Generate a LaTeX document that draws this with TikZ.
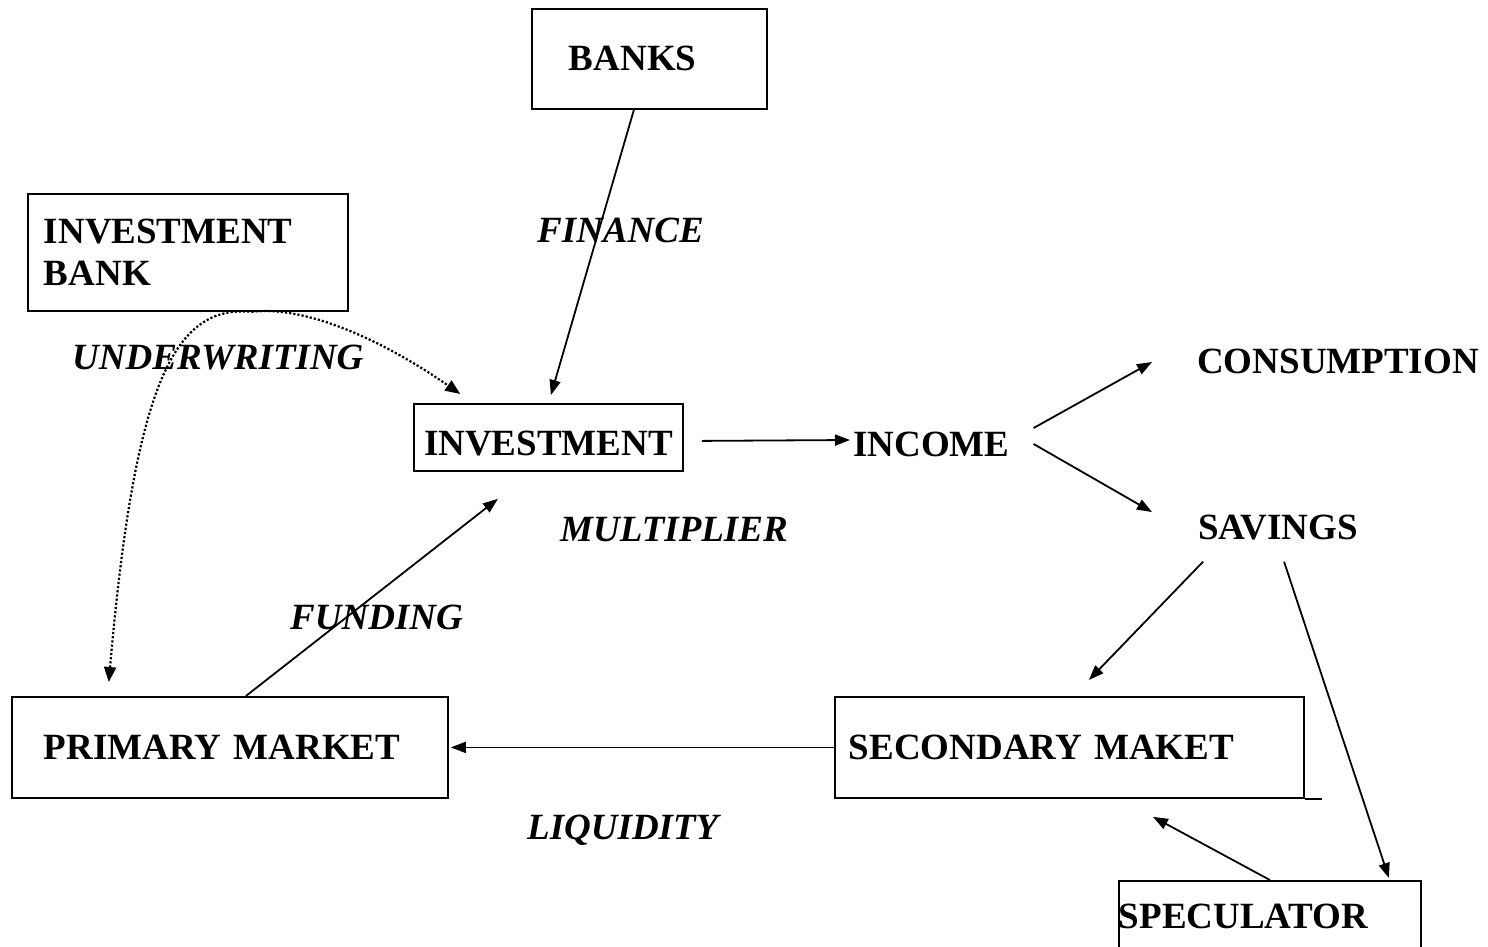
\documentclass[tikz,border=0pt]{standalone}
\usepackage{fontspec}
\setmainfont{Liberation Serif}
\usetikzlibrary{arrows.meta}

\tikzset{
  box/.style={draw, line width=1.8pt, rectangle, anchor=north west, inner ysep=0pt, align=left},
  word/.style={anchor=west, inner sep=0pt},
  arr/.style={-{Triangle[length=15pt,width=11pt]}, line width=1.8pt},
  dotarr/.style={{Triangle[length=15pt,width=12pt]}-{Triangle[length=15pt,width=12pt]}, line width=2.2pt, dash pattern=on 2.2pt off 2pt}
}

\begin{document}
\begin{tikzpicture}[x=1pt,y=-1pt,font=\fontsize{37}{42}\selectfont\bfseries]
\useasboundingbox (0,0) rectangle (1488,946);

% boxes
\node [box, minimum width=235pt, minimum height=100pt, text width=161pt, inner xsep=37pt] (banks) at (531,8) {BANKS};
\node [box, minimum width=320pt, minimum height=117pt, text width=288pt, inner xsep=16pt] (ibank) at (27,193) {INVESTMENT\\BANK};
\node [box, minimum width=269pt, minimum height=67pt, inner xsep=0pt, text height=36pt] (invest) at (413,403) {INVESTMENT};
\node [box, minimum width=436pt, minimum height=101pt, text width=372pt, inner xsep=32pt] (primary) at (11,696) {PRIMARY MARKET};
\node [box, minimum width=469pt, minimum height=101pt, text width=441pt, inner xsep=14pt] (secondary) at (834,696) {SECONDARY MAKET};
\node [box, minimum width=302pt, minimum height=100pt, text width=302pt, inner xsep=0pt, text depth=30pt] (spec) at (1118,880) {SPECULATOR};
\draw [line width=1.8pt] (secondary.south east) -- ++(17,0);

% plain words
\node [word] (income) at (853,444) {INCOME};
\node [word] (consump) at (1197,361) {CONSUMPTION};
\node [word] (savings) at (1198,528) {SAVINGS};

% labels
\node [word] (finance) at (537,230) {\itshape FINANCE};
\node [word] (underw) at (72,358) {\itshape UNDERWRITING};
\node [word] (multip) at (560,530) {\itshape MULTIPLIER};
\node [word] (funding) at (290,617) {\itshape FUNDING};
\node [word] (liquid) at (527,830) {\itshape LIQUIDITY};

% connectors
\draw [arr] ([xshift=-15.5pt]banks.south) -- ([xshift=2.5pt,yshift=8pt]invest.north);
\draw [dotarr] ([yshift=14pt]primary.157) .. controls (135,380) and (175,305) .. (ibank.-43)
  .. controls (310,305) and (390,345) .. ([xshift=-3pt,yshift=9pt]invest.158);
\draw [arr] ([xshift=18pt,yshift=-3.5pt]invest.east) -- ([xshift=-3pt,yshift=4pt]income.west);
\draw [arr] ([xshift=24pt,yshift=16pt]income.east) -- ([xshift=-45pt,yshift=-1pt]consump.west);
\draw [arr] ([xshift=24pt]income.east) -- ([xshift=-46pt,yshift=16pt]savings.west);
\draw [arr] ([xshift=5pt,yshift=-21pt]savings.south west) -- ([xshift=19.5pt,yshift=16pt]secondary.north);
\draw [arr] ([xshift=6pt,yshift=-21pt]savings.south) -- ([xshift=119pt,yshift=2pt]spec.north);
\draw [arr] (spec.north) -- ([xshift=83.5pt,yshift=-18pt]secondary.south);
\draw [arr] (secondary.west) -- ([xshift=2pt]primary.east);
\draw [arr] ([xshift=16pt]primary.north) -- ([xshift=-50.5pt,yshift=-27pt]invest.south);

\end{tikzpicture}
\end{document}
